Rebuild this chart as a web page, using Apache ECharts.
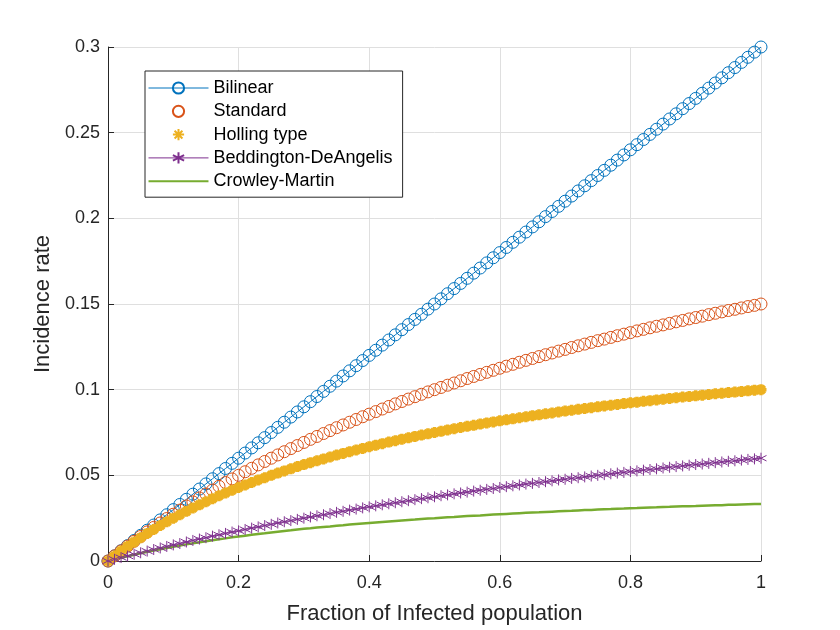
<!DOCTYPE html>
<html>
<head>
<meta charset="utf-8">
<script src="https://cdn.jsdelivr.net/npm/echarts@6/dist/echarts.min.js"></script>
<style>
  html, body { margin: 0; padding: 0; background: #fff; }
  #chart { width: 840px; height: 630px; }
</style>
</head>
<body>
<div id="chart"></div>
<script>
// fraction of infected population
var xValues = [
    0, 0.01, 0.02, 0.03, 0.04, 0.05, 0.06, 0.07, 0.08, 0.09, 0.10,
    0.11, 0.12, 0.13, 0.14, 0.15, 0.16, 0.17, 0.18, 0.19, 0.20,
    0.21, 0.22, 0.23, 0.24, 0.25, 0.26, 0.27, 0.28, 0.29, 0.30,
    0.31, 0.32, 0.33, 0.34, 0.35, 0.36, 0.37, 0.38, 0.39, 0.40,
    0.41, 0.42, 0.43, 0.44, 0.45, 0.46, 0.47, 0.48, 0.49, 0.50,
    0.51, 0.52, 0.53, 0.54, 0.55, 0.56, 0.57, 0.58, 0.59, 0.60,
    0.61, 0.62, 0.63, 0.64, 0.65, 0.66, 0.67, 0.68, 0.69, 0.70,
    0.71, 0.72, 0.73, 0.74, 0.75, 0.76, 0.77, 0.78, 0.79, 0.80,
    0.81, 0.82, 0.83, 0.84, 0.85, 0.86, 0.87, 0.88, 0.89, 0.90,
    0.91, 0.92, 0.93, 0.94, 0.95, 0.96, 0.97, 0.98, 0.99, 1.00
];

var bilinear = [
    0, 0.003, 0.006, 0.009, 0.012, 0.015, 0.018, 0.021, 0.024, 0.027, 0.030,
    0.033, 0.036, 0.039, 0.042, 0.045, 0.048, 0.051, 0.054, 0.057, 0.060,
    0.063, 0.066, 0.069, 0.072, 0.075, 0.078, 0.081, 0.084, 0.087, 0.090,
    0.093, 0.096, 0.099, 0.102, 0.105, 0.108, 0.111, 0.114, 0.117, 0.120,
    0.123, 0.126, 0.129, 0.132, 0.135, 0.138, 0.141, 0.144, 0.147, 0.150,
    0.153, 0.156, 0.159, 0.162, 0.165, 0.168, 0.171, 0.174, 0.177, 0.180,
    0.183, 0.186, 0.189, 0.192, 0.195, 0.198, 0.201, 0.204, 0.207, 0.210,
    0.213, 0.216, 0.219, 0.222, 0.225, 0.228, 0.231, 0.234, 0.237, 0.240,
    0.243, 0.246, 0.249, 0.252, 0.255, 0.258, 0.261, 0.264, 0.267, 0.270,
    0.273, 0.276, 0.279, 0.282, 0.285, 0.288, 0.291, 0.294, 0.297, 0.300
];

var standard = [
    0, 0.0030, 0.0059, 0.0087, 0.0115, 0.0143, 0.0170, 0.0196, 0.0222, 0.0248, 0.0273,
    0.0297, 0.0321, 0.0345, 0.0368, 0.0391, 0.0414, 0.0436, 0.0458, 0.0479, 0.0500,
    0.0521, 0.0541, 0.0561, 0.0581, 0.0600, 0.0619, 0.0638, 0.0656, 0.0674, 0.0692,
    0.0710, 0.0727, 0.0744, 0.0761, 0.0778, 0.0794, 0.0810, 0.0826, 0.0842, 0.0857,
    0.0872, 0.0887, 0.0902, 0.0917, 0.0931, 0.0945, 0.0959, 0.0973, 0.0987, 0.1000,
    0.1013, 0.1026, 0.1039, 0.1052, 0.1065, 0.1077, 0.1089, 0.1101, 0.1113, 0.1125,
    0.1137, 0.1148, 0.1160, 0.1171, 0.1182, 0.1193, 0.1204, 0.1214, 0.1225, 0.1235,
    0.1246, 0.1256, 0.1266, 0.1276, 0.1286, 0.1295, 0.1305, 0.1315, 0.1324, 0.1333,
    0.1343, 0.1352, 0.1361, 0.1370, 0.1378, 0.1387, 0.1396, 0.1404, 0.1413, 0.1421,
    0.1429, 0.1438, 0.1446, 0.1454, 0.1462, 0.1469, 0.1477, 0.1485, 0.1492, 0.1500
];

var holling = [
    0, 0.0029, 0.0058, 0.0085, 0.0111, 0.0136, 0.0161, 0.0184, 0.0207, 0.0229, 0.0250,
    0.0270, 0.0290, 0.0310, 0.0328, 0.0346, 0.0364, 0.0381, 0.0397, 0.0413, 0.0429,
    0.0444, 0.0458, 0.0473, 0.0486, 0.0500, 0.0513, 0.0526, 0.0538, 0.0551, 0.0563,
    0.0574, 0.0585, 0.0596, 0.0607, 0.0618, 0.0628, 0.0638, 0.0648, 0.0657, 0.0667,
    0.0676, 0.0685, 0.0694, 0.0702, 0.0711, 0.0719, 0.0727, 0.0735, 0.0742, 0.0750,
    0.0757, 0.0765, 0.0772, 0.0779, 0.0786, 0.0792, 0.0799, 0.0806, 0.0812, 0.0818,
    0.0824, 0.0830, 0.0836, 0.0842, 0.0848, 0.0853, 0.0859, 0.0864, 0.0870, 0.0875,
    0.0880, 0.0885, 0.0890, 0.0895, 0.0900, 0.0905, 0.0909, 0.0914, 0.0919, 0.0923,
    0.0927, 0.0932, 0.0936, 0.0940, 0.0944, 0.0949, 0.0953, 0.0957, 0.0960, 0.0964,
    0.0968, 0.0972, 0.0976, 0.0979, 0.0983, 0.0986, 0.0990, 0.0993, 0.0997, 0.1000
];

var beddington = [
    0, 0.0010, 0.0020, 0.0029, 0.0039, 0.0048, 0.0058, 0.0067, 0.0076, 0.0085, 0.0094,
    0.0102, 0.0111, 0.0120, 0.0128, 0.0136, 0.0145, 0.0153, 0.0161, 0.0169, 0.0176,
    0.0184, 0.0192, 0.0199, 0.0207, 0.0214, 0.0222, 0.0229, 0.0236, 0.0243, 0.0250,
    0.0257, 0.0264, 0.0270, 0.0277, 0.0284, 0.0290, 0.0297, 0.0303, 0.0310, 0.0316,
    0.0322, 0.0328, 0.0334, 0.0340, 0.0346, 0.0352, 0.0358, 0.0364, 0.0369, 0.0375,
    0.0381, 0.0386, 0.0392, 0.0397, 0.0402, 0.0408, 0.0413, 0.0418, 0.0423, 0.0429,
    0.0434, 0.0439, 0.0444, 0.0449, 0.0453, 0.0458, 0.0463, 0.0468, 0.0473, 0.0477,
    0.0482, 0.0486, 0.0491, 0.0496, 0.0500, 0.0504, 0.0509, 0.0513, 0.0517, 0.0522,
    0.0526, 0.0530, 0.0534, 0.0538, 0.0543, 0.0547, 0.0551, 0.0555, 0.0559, 0.0563,
    0.0566, 0.0570, 0.0574, 0.0578, 0.0582, 0.0585, 0.0589, 0.0593, 0.0596, 0.0600
];

var crowley = [
    0, 0.0010, 0.0019, 0.0028, 0.0037, 0.0045, 0.0054, 0.0061, 0.0069, 0.0076, 0.0083,
    0.0090, 0.0097, 0.0103, 0.0109, 0.0115, 0.0121, 0.0127, 0.0132, 0.0138, 0.0143,
    0.0148, 0.0153, 0.0158, 0.0162, 0.0167, 0.0171, 0.0175, 0.0179, 0.0184, 0.0188,
    0.0191, 0.0195, 0.0199, 0.0202, 0.0206, 0.0209, 0.0213, 0.0216, 0.0219, 0.0222,
    0.0225, 0.0228, 0.0231, 0.0234, 0.0237, 0.0240, 0.0242, 0.0245, 0.0248, 0.0250,
    0.0253, 0.0255, 0.0257, 0.0260, 0.0262, 0.0264, 0.0266, 0.0269, 0.0271, 0.0273,
    0.0275, 0.0277, 0.0279, 0.0281, 0.0283, 0.0284, 0.0286, 0.0288, 0.0290, 0.0292,
    0.0293, 0.0295, 0.0297, 0.0298, 0.0300, 0.0302, 0.0303, 0.0305, 0.0306, 0.0308,
    0.0309, 0.0311, 0.0312, 0.0313, 0.0315, 0.0316, 0.0318, 0.0319, 0.0320, 0.0321,
    0.0323, 0.0324, 0.0325, 0.0326, 0.0328, 0.0329, 0.0330, 0.0331, 0.0332, 0.0333
];

var seriesNames = ['Bilinear', 'Standard', 'Holling type', 'Beddington-DeAngelis', 'Crowley-Martin'];

function pairs(ys) {
    return xValues.map(function (x, i) { return [x, ys[i]]; });
}

// matlab style asterisk markers
var star3 = 'path://M5,0L5,10M0.67,2.5L9.33,7.5M0.67,7.5L9.33,2.5';
var star4 = 'path://M5,0L5,10M0,5L10,5M1.5,1.5L8.5,8.5M1.5,8.5L8.5,1.5';
// plain line for the legend (first/last pieces only set the box)
var plainLine = 'path://M0,0L0.01,0L0.01,0.01ZM0,6L60,6L60,8L0,8ZM0,14L0.01,14L0.01,14.01Z';

var textColor = '#262626';
var font = 'Liberation Sans, Arial, sans-serif';

var option = {
    animation: false,
    backgroundColor: '#fff',
    grid: { left: 108, right: 79, top: 47, bottom: 69 },
    legend: {
        orient: 'vertical',
        left: 145,
        top: 71,
        data: [
            { name: seriesNames[0], lineStyle: { width: 1 } },
            { name: seriesNames[1], lineStyle: { width: 0 } },
            { name: seriesNames[2], lineStyle: { width: 0 } },
            { name: seriesNames[3], lineStyle: { width: 1 } },
            { name: seriesNames[4], icon: plainLine }
        ],
        itemWidth: 60,
        itemHeight: 14,
        itemGap: 5.3,
        padding: [8, 10, 7, 3],
        borderColor: textColor,
        borderWidth: 1,
        borderRadius: 0,
        backgroundColor: '#fff',
        textStyle: { fontFamily: font, fontSize: 18, lineHeight: 18, color: '#000' }
    },
    xAxis: {
        type: 'value',
        min: 0,
        max: 1,
        interval: 0.2,
        name: 'Fraction of Infected population',
        nameLocation: 'middle',
        nameGap: 42,
        nameTextStyle: { fontFamily: font, fontSize: 22, color: textColor },
        axisLine: { onZero: false, lineStyle: { color: textColor, width: 1 } },
        axisTick: { inside: true, length: 6, lineStyle: { color: textColor } },
        axisLabel: { fontFamily: font, fontSize: 18, color: textColor, margin: 13 },
        splitLine: { show: true, lineStyle: { color: '#dfdfdf', width: 1 } }
    },
    yAxis: {
        type: 'value',
        min: 0,
        max: 0.3,
        interval: 0.05,
        name: 'Incidence rate',
        nameLocation: 'middle',
        nameGap: 52,
        nameTextStyle: { fontFamily: font, fontSize: 22, color: textColor },
        axisLine: { show: true, onZero: false, lineStyle: { color: textColor, width: 1 } },
        axisTick: { show: true, inside: true, length: 6, lineStyle: { color: textColor } },
        axisLabel: { fontFamily: font, fontSize: 18, color: textColor, margin: 8 },
        splitLine: { show: true, lineStyle: { color: '#dfdfdf', width: 1 } }
    },
    series: [
        {
            name: 'Bilinear',
            type: 'line',
            data: pairs(bilinear),
            symbol: 'circle',
            symbolSize: 12,
            lineStyle: { color: '#0072BD', width: 1 },
            itemStyle: { color: 'transparent', borderColor: '#0072BD', borderWidth: 1 }
        },
        {
            name: 'Standard',
            type: 'line',
            data: pairs(standard),
            symbol: 'circle',
            symbolSize: 12,
            lineStyle: { color: '#D95319', width: 0 },
            itemStyle: { color: 'transparent', borderColor: '#D95319', borderWidth: 1 }
        },
        {
            name: 'Holling type',
            type: 'line',
            data: pairs(holling),
            symbol: star4,
            symbolSize: 11,
            lineStyle: { color: '#EDB120', width: 0 },
            itemStyle: { color: 'none', borderColor: '#EDB120', borderWidth: 3.5 }
        },
        {
            name: 'Beddington-DeAngelis',
            type: 'line',
            data: pairs(beddington),
            symbol: star3,
            symbolSize: 11,
            lineStyle: { color: '#7E2F8E', width: 1 },
            itemStyle: { color: 'none', borderColor: '#7E2F8E', borderWidth: 1 }
        },
        {
            name: 'Crowley-Martin',
            type: 'line',
            data: pairs(crowley),
            showSymbol: false,
            symbol: 'none',
            lineStyle: { color: '#77AC30', width: 2.5 },
            itemStyle: { color: '#77AC30' }
        }
    ]
};

var myChart = echarts.init(document.getElementById('chart'));
myChart.setOption(option);
</script>
</body>
</html>
